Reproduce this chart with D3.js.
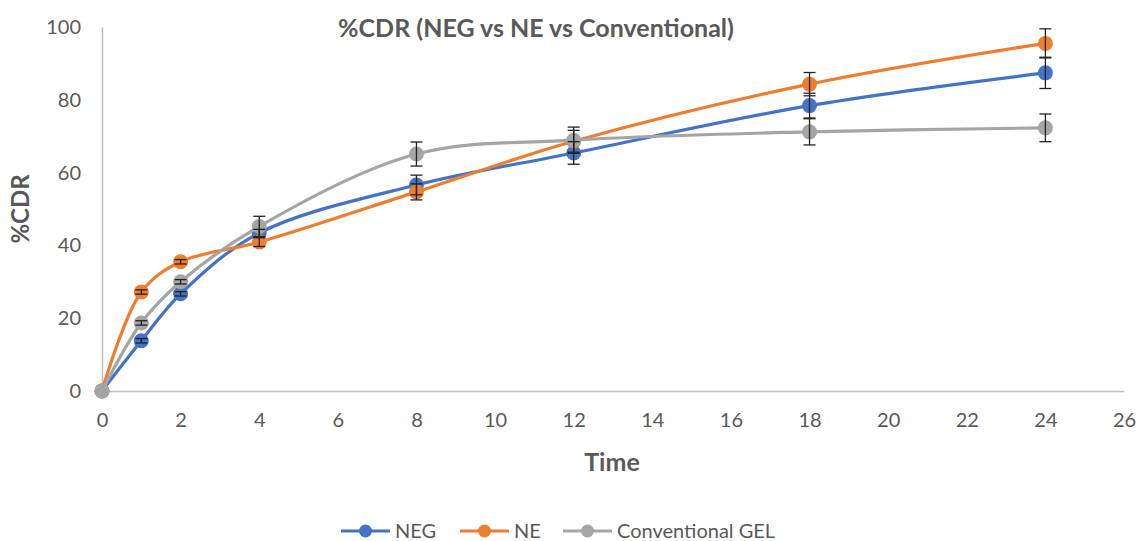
<!DOCTYPE html>
<html>
<head>
<meta charset="utf-8">
<script src="https://cdn.jsdelivr.net/npm/d3@7"></script>
<style>
  body { margin: 0; background: #fff; }
  svg { display: block; font-family: Lato, "Open Sans", sans-serif; }
</style>
</head>
<body>
<div id="chart"></div>
<script>
// time points (h)
const times = [0, 1, 2, 4, 8, 12, 18, 24];
const negValues = [0, 13.8, 26.7, 43.4, 56.6, 65.4, 78.4, 87.4];
const neValues = [0, 27.2, 35.5, 40.9, 54.7, 68.6, 84.3, 95.5];
const gelValues = [0, 18.7, 30.0, 45.2, 65.1, 68.9, 71.2, 72.3];
const negErr = [0, 0.6, 0.6, 1.0, 2.7, 3.1, 3.4, 4.3];
const neErr = [0, 0.6, 0.6, 1.2, 2.2, 3.0, 3.2, 4.0];
const gelErr = [0, 0.6, 0.6, 2.8, 3.3, 3.6, 3.6, 3.8];
const xTicks = d3.range(0, 27, 2);
const yTicks = [0, 20, 40, 60, 80, 100];

const series = [
  {name: 'NEG', values: negValues, err: negErr, color: '#4472c4'},
  {name: 'NE', values: neValues, err: neErr, color: '#ed7d31'},
  {name: 'Conventional GEL', values: gelValues, err: gelErr, color: '#a5a5a5'}
];

const width = 1139, height = 541;
const x = d3.scaleLinear().domain([0, 26]).range([102, 1124]);
const y = d3.scaleLinear().domain([0, 100]).range([391, 27]);

const svg = d3.select('#chart').append('svg')
  .attr('width', width).attr('height', height);

// axes
const xAxis = svg.append('g').attr('transform', `translate(0,${y(0)})`)
  .call(d3.axisBottom(x).tickValues(xTicks).tickSize(0).tickPadding(22));
const yAxis = svg.append('g').attr('transform', `translate(${x(0)},0)`)
  .call(d3.axisLeft(y).tickValues(yTicks).tickSize(0).tickPadding(21));
[xAxis, yAxis].forEach(a => {
  a.select('.domain').attr('stroke', '#bfbfbf').attr('stroke-width', 1.5);
  a.selectAll('text').attr('fill', '#595959').style('font-size', '20px')
    .style('font-family', 'Lato, "Open Sans", sans-serif');
});

const line = d3.line()
  .x((d, i) => x(times[i]))
  .y(d => y(d))
  .curve(d3.curveCatmullRom.alpha(0.5));

series.forEach(s => {
  const g = svg.append('g');
  g.append('path').datum(s.values)
    .attr('fill', 'none').attr('stroke', s.color).attr('stroke-width', 3.2)
    .attr('d', line);
  g.selectAll('circle').data(s.values).join('circle')
    .attr('cx', (d, i) => x(times[i])).attr('cy', d => y(d))
    .attr('r', 7.5).attr('fill', s.color);
});

// error bars drawn on top
series.forEach(s => {
  const g = svg.append('g').attr('stroke', '#222').attr('stroke-width', 1.3);
  s.values.forEach((v, i) => {
    if (!s.err[i]) return;
    const cx = x(times[i]);
    const top = y(v + s.err[i]), bot = y(v - s.err[i]);
    g.append('line').attr('x1', cx).attr('x2', cx).attr('y1', top).attr('y2', bot);
    g.append('line').attr('x1', cx - 6).attr('x2', cx + 6).attr('y1', top).attr('y2', top);
    g.append('line').attr('x1', cx - 6).attr('x2', cx + 6).attr('y1', bot).attr('y2', bot);
  });
});

// title and axis labels
svg.append('text').attr('x', 536).attr('y', 37).attr('text-anchor', 'middle')
  .attr('fill', '#595959').style('font-size', '25px').style('font-weight', 'bold')
  .text('%CDR (NEG vs NE vs Conventional)');
svg.append('text').attr('x', 612).attr('y', 471).attr('text-anchor', 'middle')
  .attr('fill', '#595959').style('font-size', '25px').style('font-weight', 'bold')
  .text('Time');
svg.append('text').attr('transform', 'translate(29,209) rotate(-90)')
  .attr('text-anchor', 'middle')
  .attr('fill', '#595959').style('font-size', '24px').style('font-weight', 'bold')
  .text('%CDR');

// legend
const legendX = [341, 460, 563];
series.forEach((s, i) => {
  const g = svg.append('g').attr('transform', `translate(${legendX[i]},531)`);
  g.append('line').attr('x1', 0).attr('x2', 49).attr('stroke', s.color).attr('stroke-width', 3);
  g.append('circle').attr('cx', 24.5).attr('r', 6.5).attr('fill', s.color);
  g.append('text').attr('x', 54).attr('y', 7).attr('fill', '#595959')
    .style('font-size', '20px').text(s.name);
});
</script>
</body>
</html>
